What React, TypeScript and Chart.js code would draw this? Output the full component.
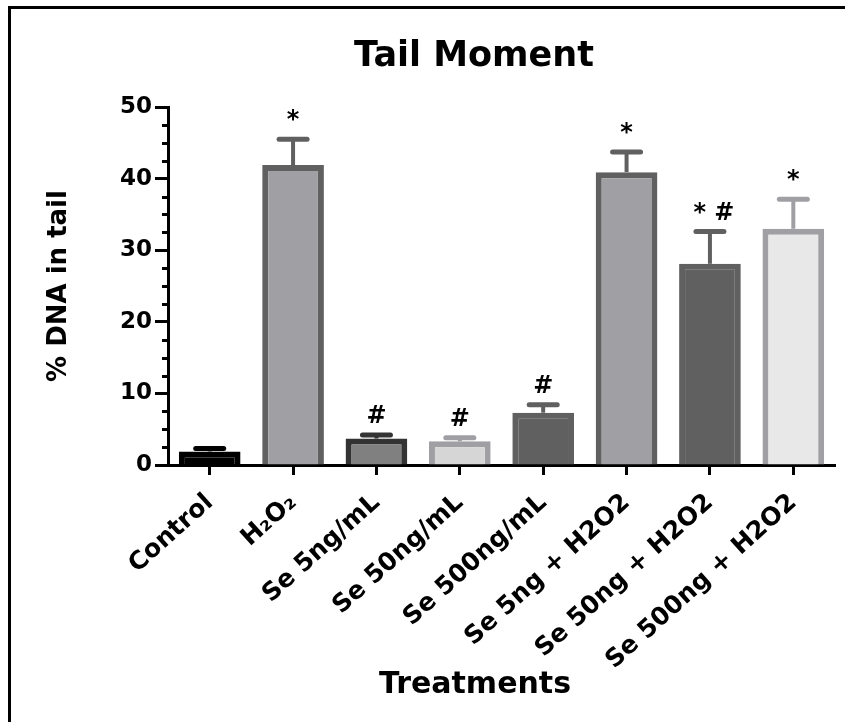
import React, { useEffect, useRef } from 'react';
import { Chart, registerables } from 'chart.js';

Chart.register(...registerables);

const FONT = "'DejaVu Sans', sans-serif";

const chartTitle = 'Tail Moment';
const yAxisTitle = '% DNA in tail';
const xAxisTitle = 'Treatments';

const categories = [
  'Control',
  'H₂O₂',
  'Se 5ng/mL',
  'Se 50ng/mL',
  'Se 500ng/mL',
  'Se 5ng + H2O2',
  'Se 50ng + H2O2',
  'Se 500ng + H2O2',
];
const meanValues = [1.9, 41.9, 3.7, 3.3, 7.3, 40.9, 28.1, 33.0];
const semValues = [0.4, 3.6, 0.5, 0.5, 1.1, 2.8, 4.5, 4.1];
const significance = ['', '*', '#', '#', '#', '*', '* #', '*'];
const yMin = 0;
const yMax = 50;
const yMajorStep = 10;
const yMinorStep = 2.5;

const fillColors = ['#000000', '#a0a0a4', '#808080', '#d6d6d6', '#606060', '#a0a0a4', '#606060', '#e8e8e8'];
const edgeColors = ['#000000', '#606060', '#333333', '#a0a0a4', '#606060', '#606060', '#606060', '#a0a0a4'];

const framePlugin = {
  id: 'frame',
  beforeDraw(chart: any) {
    const { ctx, width, height } = chart;
    ctx.save();
    ctx.fillStyle = '#ffffff';
    ctx.fillRect(0, 0, width, height);
    ctx.fillStyle = '#000000';
    ctx.fillRect(8, 6, width - 8, 3);
    ctx.fillRect(8, 6, 3, height - 6);
    ctx.restore();
  },
};

const minorTickPlugin = {
  id: 'minorTicks',
  afterDraw(chart: any) {
    const { ctx, chartArea, scales } = chart;
    const y = scales.y;
    ctx.save();
    ctx.strokeStyle = '#000000';
    ctx.lineWidth = 3;
    for (let v = yMin + yMinorStep; v < yMax; v += yMinorStep) {
      if (Math.abs(v % yMajorStep) < 1e-6) continue;
      const py = Math.round(y.getPixelForValue(v)) + 0.5;
      ctx.beginPath();
      ctx.moveTo(chartArea.left - 6, py);
      ctx.lineTo(chartArea.left, py);
      ctx.stroke();
    }
    ctx.restore();
  },
};

const errorBarPlugin = {
  id: 'errorBars',
  afterDatasetsDraw(chart: any) {
    const { ctx, scales } = chart;
    const meta = chart.getDatasetMeta(0);
    const y = scales.y;
    ctx.save();
    meta.data.forEach((bar: any, i: number) => {
      const x = bar.x;
      const yBase = y.getPixelForValue(meanValues[i]);
      const yTop = y.getPixelForValue(meanValues[i] + semValues[i]);
      ctx.strokeStyle = edgeColors[i];
      ctx.lineCap = 'butt';
      ctx.lineWidth = 4;
      ctx.beginPath();
      ctx.moveTo(x, yBase);
      ctx.lineTo(x, yTop);
      ctx.stroke();
      ctx.lineCap = 'round';
      ctx.lineWidth = 5;
      ctx.beginPath();
      ctx.moveTo(x - 14, yTop);
      ctx.lineTo(x + 14, yTop);
      ctx.stroke();
      const mark = significance[i];
      if (mark) {
        ctx.fillStyle = '#000000';
        ctx.font = `bold 24px ${FONT}`;
        ctx.textAlign = 'center';
        ctx.textBaseline = 'alphabetic';
        ctx.fillText(mark, x + (mark.length > 1 ? 4 : 0), yTop - 12);
      }
    });
    ctx.restore();
  },
};

const titlesPlugin = {
  id: 'titles',
  afterDraw(chart: any) {
    const { ctx } = chart;
    ctx.save();
    ctx.fillStyle = '#000000';
    ctx.textAlign = 'center';
    ctx.textBaseline = 'alphabetic';
    ctx.font = `bold 35px ${FONT}`;
    ctx.fillText(chartTitle, 474, 66);
    ctx.font = `bold 30px ${FONT}`;
    ctx.fillText(xAxisTitle, 475, 693);
    ctx.restore();
  },
};

export default function App() {
  const canvasRef = useRef<HTMLCanvasElement | null>(null);

  useEffect(() => {
    if (!canvasRef.current) return;
    const chart = new Chart(canvasRef.current, {
      type: 'bar',
      data: {
        labels: categories,
        datasets: [
          {
            data: meanValues,
            backgroundColor: fillColors,
            borderColor: edgeColors,
            borderWidth: 6,
            borderSkipped: 'start',
            barPercentage: 0.74,
            categoryPercentage: 1,
          },
        ],
      },
      options: {
        responsive: false,
        devicePixelRatio: 1,
        animation: false,
        layout: { padding: { left: 20, right: 10, top: 107, bottom: 0 } },
        plugins: {
          legend: { display: false },
          title: { display: false },
          tooltip: { enabled: false },
        },
        scales: {
          x: {
            type: 'category',
            offset: true,
            grid: {
              offset: false,
              drawOnChartArea: false,
              drawTicks: true,
              tickLength: 10,
              tickWidth: 3,
              tickColor: '#000000',
            },
            border: { display: true, color: '#000000', width: 3 },
            ticks: {
              autoSkip: false,
              minRotation: 42,
              maxRotation: 42,
              padding: 13,
              color: '#000000',
              font: { family: FONT, weight: 'bold', size: 25 },
            },
            afterFit(scale: any) {
              scale.height = 257;
            },
          },
          y: {
            min: yMin,
            max: yMax,
            grid: {
              drawOnChartArea: false,
              drawTicks: true,
              tickLength: 13,
              tickWidth: 3,
              tickColor: '#000000',
            },
            border: { display: true, color: '#000000', width: 3 },
            ticks: {
              stepSize: yMajorStep,
              padding: 3,
              color: '#000000',
              font: { family: FONT, weight: 'bold', size: 23 },
            },
            title: {
              display: true,
              text: yAxisTitle,
              color: '#000000',
              font: { family: FONT, weight: 'bold', size: 26 },
              padding: { top: 24, bottom: 0 },
            },
            afterFit(scale: any) {
              scale.width = 148;
            },
          },
        },
      },
      plugins: [framePlugin, minorTickPlugin, errorBarPlugin, titlesPlugin],
    } as any);
    return () => chart.destroy();
  }, []);

  return (
    <div style={{ position: 'absolute', left: 0, top: 0, width: 845, height: 722 }}>
      <canvas ref={canvasRef} width={845} height={722} style={{ display: 'block', width: 845, height: 722 }} />
    </div>
  );
}
